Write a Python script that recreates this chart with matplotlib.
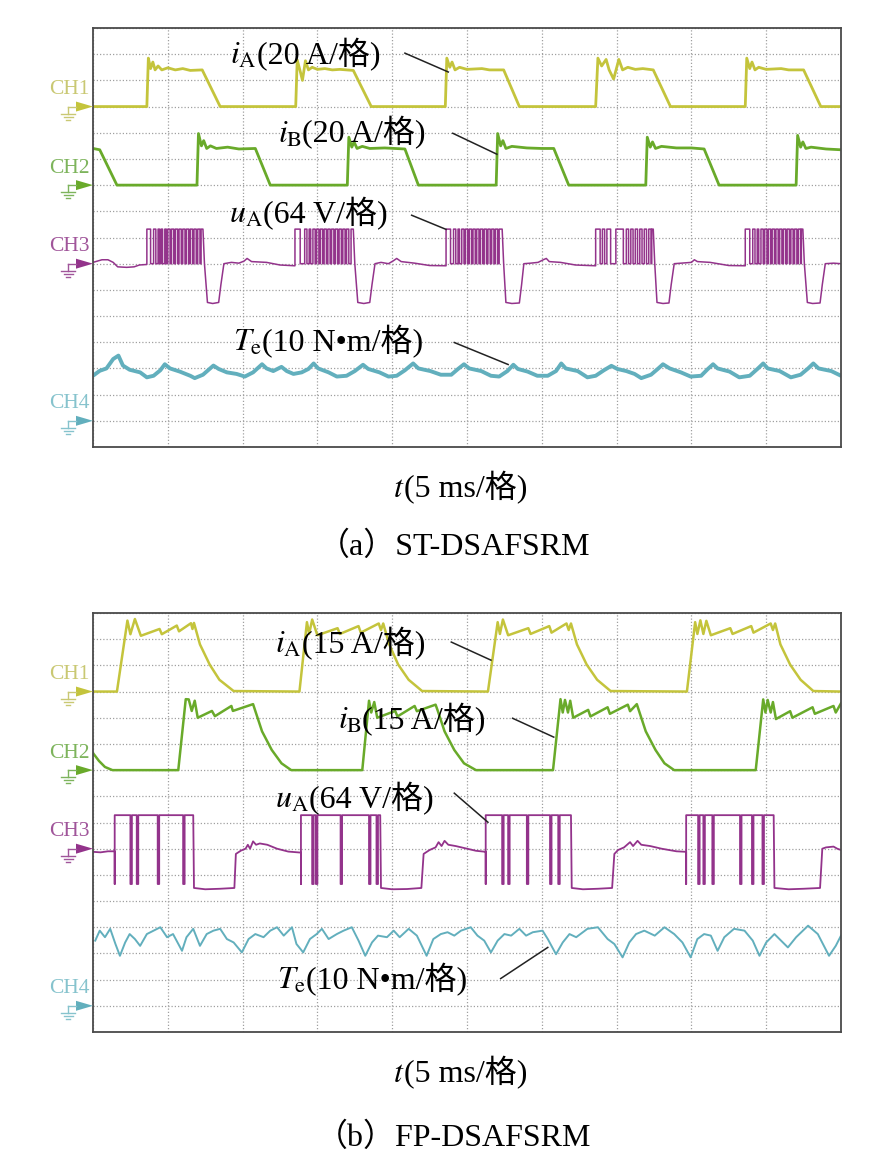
import matplotlib
matplotlib.use("Agg")
import matplotlib.pyplot as plt
from matplotlib.lines import Line2D
from matplotlib.patches import Polygon

plt.rcParams['font.family'] = ['Liberation Serif', 'Noto Sans CJK SC']
plt.rcParams['mathtext.fontset'] = 'stix'

W, H = 882, 1170

# x: divisions (5 ms/div, 10 div), y: divisions (16 rows), ground: CH1=13, CH2=10, CH3=7, CH4=1

# ---------------- (a) ST-DSAFSRM ----------------
ia_a = [(0, 13.0), (0.72, 13.0), (0.74, 14.85), (0.77, 14.45), (0.80, 14.7), (0.83, 14.4), (0.87, 14.55),
        (0.92, 14.4), (1.0, 14.48), (1.1, 14.4), (1.2, 14.45), (1.3, 14.38), (1.46, 14.4), (1.70, 13.0),
        (2.71, 13.0), (2.73, 14.78), (2.77, 14.35), (2.80, 14.0), (2.84, 14.75), (2.88, 14.4), (2.93, 14.5),
        (3.0, 14.42), (3.1, 14.45), (3.2, 14.4), (3.3, 14.42), (3.48, 14.38), (3.72, 13.0),
        (4.71, 13.0), (4.73, 14.85), (4.77, 14.5), (4.80, 14.7), (4.84, 14.4), (4.9, 14.5), (5.0, 14.42),
        (5.2, 14.45), (5.3, 14.4), (5.49, 14.4), (5.70, 13.0),
        (6.72, 13.0), (6.75, 14.85), (6.80, 14.55), (6.86, 14.8), (6.90, 14.4), (6.96, 14.05), (7.03, 14.8),
        (7.08, 14.4), (7.15, 14.5), (7.25, 14.42), (7.35, 14.45), (7.49, 14.4), (7.72, 13.0),
        (8.72, 13.0), (8.74, 14.85), (8.78, 14.45), (8.81, 14.7), (8.85, 14.4), (8.9, 14.5), (9.0, 14.42),
        (9.2, 14.45), (9.3, 14.4), (9.50, 14.4), (9.73, 13.0), (10, 13.0)]

ib_a = [(0, 11.4), (0.09, 11.35), (0.32, 10.0), (1.39, 10.0), (1.41, 11.97), (1.45, 11.5), (1.48, 11.7),
        (1.52, 11.4), (1.57, 11.5), (1.65, 11.4), (1.8, 11.45), (1.95, 11.38), (2.17, 11.4), (2.37, 10.0),
        (3.40, 10.0), (3.42, 11.83), (3.46, 11.45), (3.49, 11.65), (3.53, 11.4), (3.6, 11.48), (3.7, 11.4),
        (3.9, 11.42), (4.17, 11.38), (4.35, 10.0),
        (5.39, 10.0), (5.41, 11.97), (5.45, 11.5), (5.48, 11.7), (5.52, 11.4), (5.6, 11.48), (5.8, 11.42),
        (6.0, 11.4), (6.16, 11.4), (6.36, 10.0),
        (7.39, 10.0), (7.41, 11.83), (7.45, 11.45), (7.48, 11.65), (7.52, 11.4), (7.6, 11.48), (7.8, 11.42),
        (8.0, 11.42), (8.17, 11.38), (8.37, 10.0),
        (9.40, 10.0), (9.42, 11.9), (9.46, 11.45), (9.49, 11.65), (9.53, 11.4), (9.6, 11.45), (9.8, 11.38),
        (10, 11.35)]

# uA: off-state stretches (incl. negative voltage) and chopping edges (on/off pairs)
ua_a_off = [
    [(0, 7.05), (0.06, 7.1), (0.12, 7.15), (0.2, 7.15), (0.27, 7.05), (0.33, 6.88), (0.45, 6.86), (0.55, 6.88),
     (0.62, 6.95), (0.72, 6.97)],
    [(1.49, 7.0), (1.53, 5.52), (1.60, 5.48), (1.68, 5.52), (1.71, 6.2), (1.75, 7.0), (1.85, 7.05), (1.95, 7.02),
     (2.02, 7.1), (2.06, 7.2), (2.12, 7.08), (2.32, 7.05), (2.5, 6.95), (2.70, 6.92)],
    [(3.50, 7.0), (3.54, 5.52), (3.62, 5.48), (3.70, 5.52), (3.73, 6.2), (3.77, 7.0), (3.85, 7.05), (3.95, 7.0),
     (4.02, 7.12), (4.06, 7.2), (4.12, 7.08), (4.3, 7.02), (4.5, 6.93), (4.72, 6.92)],
    [(5.49, 7.0), (5.52, 5.52), (5.60, 5.48), (5.70, 5.5), (5.73, 6.2), (5.76, 7.0), (5.85, 7.02), (5.95, 7.05),
     (6.02, 7.15), (6.06, 7.2), (6.10, 7.08), (6.25, 7.05), (6.45, 6.95), (6.72, 6.92)],
    [(7.51, 7.0), (7.54, 5.52), (7.62, 5.48), (7.70, 5.5), (7.73, 6.2), (7.77, 7.0), (7.87, 7.02), (8.0, 7.05),
     (8.04, 7.15), (8.08, 7.08), (8.25, 7.05), (8.5, 6.93), (8.72, 6.92)],
    [(9.51, 7.0), (9.55, 5.52), (9.62, 5.48), (9.72, 5.5), (9.75, 6.2), (9.79, 7.0), (9.9, 7.02), (10, 7.0)],
]
ua_a_edges = [
    [0.72, 0.77, 0.81, 0.84, 0.87, 0.89, 0.91, 0.93, 0.96, 0.98, 1.00, 1.03, 1.05, 1.08, 1.10, 1.13, 1.15, 1.18,
     1.20, 1.23, 1.25, 1.28, 1.30, 1.33, 1.35, 1.38, 1.40, 1.43, 1.445, 1.47],
    [2.70, 2.77, 2.83, 2.86, 2.89, 2.91, 2.94, 2.97, 2.99, 3.02, 3.04, 3.07, 3.09, 3.12, 3.14, 3.17, 3.19, 3.22,
     3.24, 3.27, 3.29, 3.32, 3.34, 3.37, 3.39, 3.42, 3.45, 3.48],
    [4.72, 4.78, 4.82, 4.85, 4.88, 4.90, 4.93, 4.96, 4.98, 5.01, 5.03, 5.06, 5.08, 5.11, 5.13, 5.16, 5.18, 5.21,
     5.23, 5.26, 5.28, 5.31, 5.33, 5.36, 5.38, 5.41, 5.43, 5.47],
    [6.72, 6.78, 6.81, 6.84, 6.87, 6.92, 6.99, 7.09, 7.13, 7.16, 7.19, 7.22, 7.25, 7.28, 7.31, 7.34, 7.37, 7.40,
     7.43, 7.46, 7.47, 7.49],
    [8.72, 8.78, 8.82, 8.85, 8.88, 8.90, 8.93, 8.96, 8.98, 9.01, 9.03, 9.06, 9.08, 9.11, 9.13, 9.16, 9.18, 9.21,
     9.23, 9.26, 9.28, 9.31, 9.33, 9.36, 9.38, 9.41, 9.43, 9.46, 9.47, 9.49],
]
ua_a_hi, ua_a_lo = 8.32, 7.0

te_a = [(0, 2.72), (0.09, 2.91), (0.18, 3.0), (0.27, 3.36), (0.34, 3.49), (0.40, 3.11), (0.49, 2.95),
        (0.63, 2.85), (0.72, 2.66), (0.81, 2.72), (0.90, 2.93), (0.96, 3.16), (1.03, 3.0), (1.16, 2.88),
        (1.30, 2.72), (1.36, 2.63), (1.47, 2.76), (1.61, 3.11), (1.68, 2.98), (1.79, 2.85), (1.92, 2.79),
        (2.03, 2.69), (2.14, 2.85), (2.26, 3.16), (2.32, 3.0), (2.41, 2.9), (2.52, 3.06), (2.59, 2.9),
        (2.68, 2.79), (2.79, 2.85), (2.88, 2.98), (2.95, 3.19), (3.01, 3.0), (3.15, 2.85), (3.26, 2.69),
        (3.39, 2.72), (3.50, 2.9), (3.61, 3.14), (3.68, 2.98), (3.83, 2.85), (3.95, 2.69), (4.06, 2.72),
        (4.17, 2.93), (4.28, 3.19), (4.35, 3.0), (4.51, 2.9), (4.65, 2.76), (4.79, 2.76), (4.88, 2.98),
        (4.96, 3.16), (5.03, 3.0), (5.19, 2.9), (5.32, 2.72), (5.43, 2.69), (5.54, 2.9), (5.62, 3.14),
        (5.68, 2.98), (5.81, 2.88), (5.94, 2.72), (6.08, 2.72), (6.19, 2.9), (6.26, 3.19), (6.32, 3.0),
        (6.48, 2.9), (6.61, 2.66), (6.72, 2.72), (6.83, 2.93), (6.93, 3.1), (7.01, 2.98), (7.13, 2.9),
        (7.24, 2.79), (7.33, 2.63), (7.46, 2.76), (7.55, 2.98), (7.62, 3.16), (7.71, 3.0), (7.86, 2.85),
        (7.99, 2.69), (8.13, 2.72), (8.22, 2.98), (8.29, 3.16), (8.35, 3.0), (8.51, 2.88), (8.64, 2.66),
        (8.78, 2.72), (8.89, 3.0), (8.96, 3.19), (9.02, 3.0), (9.18, 2.9), (9.33, 2.66), (9.46, 2.76),
        (9.56, 3.0), (9.63, 3.19), (9.70, 3.0), (9.87, 2.9), (10, 2.72)]

# ---------------- (b) FP-DSAFSRM ----------------
ia_b = [(0, 13.0), (0.32, 13.0), (0.46, 15.71), (0.50, 15.19), (0.56, 15.77), (0.64, 15.13), (0.89, 15.39),
        (0.92, 15.19), (1.12, 15.52), (1.15, 15.30), (1.31, 15.61), (1.33, 15.39), (1.35, 15.62), (1.43, 14.8),
        (1.56, 14.03), (1.69, 13.45), (1.88, 13.02),
        (2.76, 13.0), (2.86, 15.65), (2.89, 15.2), (2.93, 15.75), (3.0, 15.15), (3.27, 15.42), (3.30, 15.2),
        (3.55, 15.5), (3.58, 15.25), (3.82, 15.6), (3.85, 15.35), (3.88, 15.6), (3.96, 14.8), (4.08, 14.03),
        (4.22, 13.45), (4.40, 13.02),
        (5.28, 13.0), (5.41, 15.65), (5.44, 15.2), (5.48, 15.75), (5.55, 15.15), (5.82, 15.42), (5.85, 15.2),
        (6.10, 15.5), (6.13, 15.25), (6.33, 15.6), (6.36, 15.35), (6.39, 15.6), (6.47, 14.8), (6.60, 14.03),
        (6.74, 13.45), (6.92, 13.02),
        (7.94, 13.0), (8.05, 15.65), (8.08, 15.2), (8.12, 15.72), (8.16, 15.2), (8.20, 15.7), (8.26, 15.15),
        (8.52, 15.42), (8.55, 15.2), (8.80, 15.5), (8.83, 15.25), (9.06, 15.6), (9.09, 15.35), (9.12, 15.6),
        (9.19, 14.8), (9.32, 14.03), (9.46, 13.45), (9.63, 13.02), (10, 13.0)]

ib_b = [(0, 10.65), (0.08, 10.35), (0.16, 10.12), (0.26, 10.0),
        (1.14, 10.0), (1.24, 12.71), (1.28, 12.7), (1.32, 12.26), (1.36, 12.65), (1.40, 12.0), (1.59, 12.26),
        (1.63, 12.06), (1.85, 12.45), (1.87, 12.26), (2.14, 12.52), (2.17, 12.26), (2.26, 11.48),
        (2.39, 10.77), (2.52, 10.26), (2.65, 10.0),
        (3.60, 10.0), (3.69, 12.65), (3.72, 12.2), (3.76, 12.6), (3.80, 12.0), (4.04, 12.26), (4.07, 12.05),
        (4.30, 12.45), (4.33, 12.25), (4.58, 12.5), (4.61, 12.26), (4.70, 11.48), (4.83, 10.77),
        (4.96, 10.26), (5.12, 10.0),
        (6.15, 10.0), (6.25, 12.71), (6.28, 12.2), (6.31, 12.68), (6.35, 12.2), (6.38, 12.65), (6.42, 12.0),
        (6.62, 12.3), (6.65, 12.05), (6.88, 12.4), (6.91, 12.15), (7.15, 12.5), (7.18, 12.25), (7.27, 12.52),
        (7.30, 12.26), (7.39, 11.48), (7.52, 10.77), (7.64, 10.26), (7.77, 10.0),
        (8.86, 10.0), (8.96, 12.7), (8.99, 12.2), (9.02, 12.68), (9.06, 12.2), (9.09, 12.6), (9.13, 11.95),
        (9.32, 12.25), (9.35, 12.0), (9.62, 12.4), (9.65, 12.15), (9.90, 12.45), (9.93, 12.2), (10, 12.55)]

ua_b_off = [
    [(0, 6.88), (0.1, 6.86), (0.2, 6.9), (0.29, 6.9)],
    [(1.35, 5.5), (1.5, 5.45), (1.7, 5.47), (1.89, 5.5), (1.91, 6.8), (1.98, 6.93), (2.04, 7.0), (2.07, 7.15),
     (2.10, 7.0), (2.14, 7.28), (2.18, 7.15), (2.23, 7.2), (2.33, 7.15), (2.46, 7.0), (2.61, 6.89), (2.78, 6.85)],
    [(3.85, 5.5), (4.0, 5.45), (4.2, 5.46), (4.39, 5.5), (4.42, 6.8), (4.5, 6.95), (4.58, 7.05), (4.62, 7.25),
     (4.66, 7.1), (4.70, 7.3), (4.75, 7.15), (4.85, 7.1), (5.0, 7.0), (5.12, 6.92), (5.25, 6.88)],
    [(6.40, 5.5), (6.55, 5.45), (6.75, 5.47), (6.94, 5.5), (6.97, 6.8), (7.02, 6.95), (7.1, 7.05), (7.18, 7.25),
     (7.22, 7.1), (7.28, 7.3), (7.33, 7.15), (7.45, 7.1), (7.6, 7.0), (7.8, 6.9), (7.93, 6.88)],
    [(9.11, 5.5), (9.3, 5.45), (9.5, 5.47), (9.72, 5.5), (9.75, 7.0), (9.8, 7.05), (9.9, 7.08), (9.95, 7.0),
     (10, 6.95)],
]
ua_b_edges = [
    [0.29, 0.50, 0.52, 0.585, 0.605, 0.865, 0.885, 1.205, 1.225, 1.34],
    [2.78, 2.93, 2.95, 2.98, 3.00, 3.31, 3.33, 3.69, 3.71, 3.79, 3.81, 3.84],
    [5.25, 5.47, 5.49, 5.55, 5.57, 5.80, 5.82, 6.11, 6.13, 6.22, 6.24, 6.39],
    [7.93, 8.09, 8.11, 8.16, 8.18, 8.28, 8.30, 8.65, 8.67, 8.81, 8.83, 8.95, 8.97, 9.10],
]
ua_b_hi, ua_b_lo = 8.28, 5.65

te_b = [(0.03, 3.49), (0.09, 3.87), (0.16, 3.62), (0.23, 3.94), (0.30, 3.36), (0.36, 2.91), (0.43, 3.42),
        (0.49, 3.74), (0.56, 3.55), (0.63, 3.29), (0.72, 3.74), (0.81, 3.87), (0.90, 4.0), (0.99, 3.62),
        (1.07, 3.74), (1.19, 3.1), (1.25, 3.62), (1.34, 3.94), (1.43, 3.29), (1.52, 3.74), (1.61, 3.87),
        (1.70, 3.94), (1.79, 3.55), (1.88, 3.42), (1.99, 3.04), (2.08, 3.55), (2.17, 3.74), (2.28, 3.62),
        (2.37, 3.87), (2.46, 4.0), (2.55, 3.68), (2.66, 4.0), (2.72, 3.36), (2.81, 3.04), (2.90, 3.55),
        (2.99, 3.74), (3.06, 3.94), (3.15, 3.55), (3.26, 3.74), (3.35, 3.87), (3.46, 4.0), (3.55, 3.49),
        (3.64, 2.91), (3.73, 3.42), (3.81, 3.68), (3.93, 3.62), (4.02, 3.87), (4.10, 3.62), (4.22, 3.94),
        (4.33, 3.68), (4.46, 2.91), (4.55, 3.55), (4.65, 3.74), (4.74, 3.81), (4.83, 3.68), (4.92, 3.87),
        (5.05, 4.0), (5.14, 3.68), (5.23, 3.49), (5.32, 3.04), (5.41, 3.49), (5.50, 3.74), (5.59, 3.68),
        (5.70, 3.94), (5.79, 3.68), (5.88, 3.81), (6.01, 3.87), (6.08, 3.55), (6.19, 2.97), (6.28, 3.42),
        (6.37, 3.74), (6.46, 3.62), (6.61, 3.94), (6.75, 4.0), (6.88, 3.55), (6.97, 3.36), (7.08, 2.85),
        (7.17, 3.42), (7.26, 3.74), (7.37, 3.87), (7.51, 3.68), (7.64, 4.0), (7.77, 3.74), (7.88, 3.42),
        (7.99, 2.85), (8.08, 3.55), (8.17, 3.74), (8.26, 3.68), (8.35, 3.1), (8.44, 3.62), (8.57, 3.94),
        (8.71, 3.87), (8.82, 3.49), (8.91, 2.91), (9.00, 3.42), (9.11, 3.74), (9.29, 3.23), (9.40, 3.62),
        (9.56, 4.06), (9.69, 3.74), (9.84, 2.91), (9.93, 3.29), (10, 3.68)]

# colours
col_tr = ['#c4c43c', '#69aa2a', '#93338b', '#62afbd']
col_ch = ['#c9c873', '#7db45c', '#a0559a', '#86c3cd']
ch_names = ['CH1', 'CH2', 'CH3', 'CH4']
grounds = [13, 10, 7, 1]


def split(pts):
    return [p[0] for p in pts], [p[1] for p in pts]


def build_ua(offs, edges, hi, lo):
    xs, ys = [], []
    for k, e in enumerate(edges):
        x, y = split(offs[k])
        xs += x
        ys += y
        for i in range(0, len(e), 2):
            xs += [e[i], e[i], e[i + 1]]
            ys += [lo, hi, hi]
            if i + 2 < len(e):
                xs.append(e[i + 1])
                ys.append(lo)
    x, y = split(offs[-1])
    xs += x
    ys += y
    return xs, ys


fig = plt.figure(figsize=(W / 100, H / 100), dpi=100)
renderer = fig.canvas.get_renderer()
FS = 23


def fpx(x, y):
    return x / W, 1 - y / H


def rich(ax, x, y, math, rest, fs=FS):
    t = ax.text(x, y, math, fontsize=fs, va='baseline', ha='left', clip_on=False)
    bb = t.get_window_extent(renderer=renderer)
    x1 = ax.transData.inverted().transform((bb.x1, bb.y0))[0]
    ax.text(x1, y, rest, fontsize=fs, va='baseline', ha='left', clip_on=False)


def setup(top_px):
    ax = fig.add_axes([93 / W, 1 - (top_px + 419) / H, 748 / W, 419 / H])
    ax.set_xlim(0, 10)
    ax.set_ylim(0, 16)
    ax.set_xticks(range(11))
    ax.set_yticks(range(17))
    ax.grid(True, ls=(0, (1, 1.6)), color='#a0a0a0', lw=0.9)
    ax.tick_params(length=0, labelbottom=False, labelleft=False)
    for s in ax.spines.values():
        s.set_color('#4a4a4a')
        s.set_linewidth(1.3)
    # channel markers
    for k in range(4):
        gy = top_px + (16 - grounds[k]) * 419 / 16
        fig.text(90 / W, 1 - (gy - 17) / H, ch_names[k], color=col_ch[k], fontsize=15.5,
                 ha='right', va='center', family='Liberation Serif')
        fig.add_artist(Polygon([fpx(76, gy - 5), fpx(76, gy + 5), fpx(93, gy)], closed=True,
                               transform=fig.transFigure, color=col_tr[k], lw=0))
        for (xa, xb, ya, yb) in [(68, 76, gy, gy), (68, 68, gy, gy + 7), (61, 75, gy + 7, gy + 7),
                                 (63.5, 72.5, gy + 10, gy + 10), (66, 70, gy + 13, gy + 13)]:
            p0, p1 = fpx(xa, ya), fpx(xb, yb)
            fig.add_artist(Line2D([p0[0], p1[0]], [p0[1], p1[1]], transform=fig.transFigure,
                                  color=col_ch[k], lw=1.0))
    return ax


# ---- panel (a)
axa = setup(28)
x, y = split(ia_a)
axa.plot(x, y, color=col_tr[0], lw=2.0)
x, y = split(ib_a)
axa.plot(x, y, color=col_tr[1], lw=2.0)
x, y = build_ua(ua_a_off, ua_a_edges, ua_a_hi, ua_a_lo)
axa.plot(x, y, color=col_tr[2], lw=1.1)
x, y = split(te_a)
axa.plot(x, y, color=col_tr[3], lw=2.8)

rich(axa, 1.83, 14.62, r'$i_{\mathrm{A}}$', '(20 A/格)')
rich(axa, 2.47, 11.62, r'$i_{\mathrm{B}}$', '(20 A/格)')
rich(axa, 1.82, 8.56, r'$u_{\mathrm{A}}$', '(64 V/格)')
rich(axa, 1.87, 3.67, r'$T_{\mathrm{e}}$', '(10 N•m/格)')
for (x0, y0, x1, y1) in [(4.17, 15.04, 4.75, 14.32), (4.81, 11.98, 5.40, 11.18),
                         (4.26, 8.85, 4.72, 8.31), (4.83, 3.99, 5.55, 3.15)]:
    axa.plot([x0, x1], [y0, y1], color='#222222', lw=1.1)

# ---- panel (b)
axb = setup(613)
x, y = split(ia_b)
axb.plot(x, y, color=col_tr[0], lw=1.8)
x, y = split(ib_b)
axb.plot(x, y, color=col_tr[1], lw=1.8)
x, y = build_ua(ua_b_off, ua_b_edges, ua_b_hi, ua_b_lo)
axb.plot(x, y, color=col_tr[2], lw=1.3)
x, y = split(te_b)
axb.plot(x, y, color=col_tr[3], lw=1.4)

rich(axb, 2.43, 14.48, r'$i_{\mathrm{A}}$', '(15 A/格)')
rich(axb, 3.28, 11.58, r'$i_{\mathrm{B}}$', '(15 A/格)')
rich(axb, 2.43, 8.56, r'$u_{\mathrm{A}}$', '(64 V/格)')
rich(axb, 2.46, 1.64, r'$T_{\mathrm{e}}$', '(10 N•m/格)')
for (x0, y0, x1, y1) in [(4.79, 14.89, 5.32, 14.2), (5.61, 11.98, 6.16, 11.26),
                         (4.83, 9.12, 5.28, 8.01), (5.45, 2.04, 6.08, 3.23)]:
    axb.plot([x0, x1], [y0, y1], color='#222222', lw=1.1)

# x labels (t axis) below each panel
for ax in (axa, axb):
    ybase = 16 - (497 - 28) / 26.19
    rich(ax, (393 - 93) / 74.8, ybase, r'$t$', '(5 ms/格)')

fig.text(454 / W, 1 - 547 / H, '（a）ST-DSAFSRM', ha='center', va='center', fontsize=23)
fig.text(454 / W, 1 - 1138 / H, '（b）FP-DSAFSRM', ha='center', va='center', fontsize=23)

fig.savefig('out.png', dpi=100, facecolor='white')
